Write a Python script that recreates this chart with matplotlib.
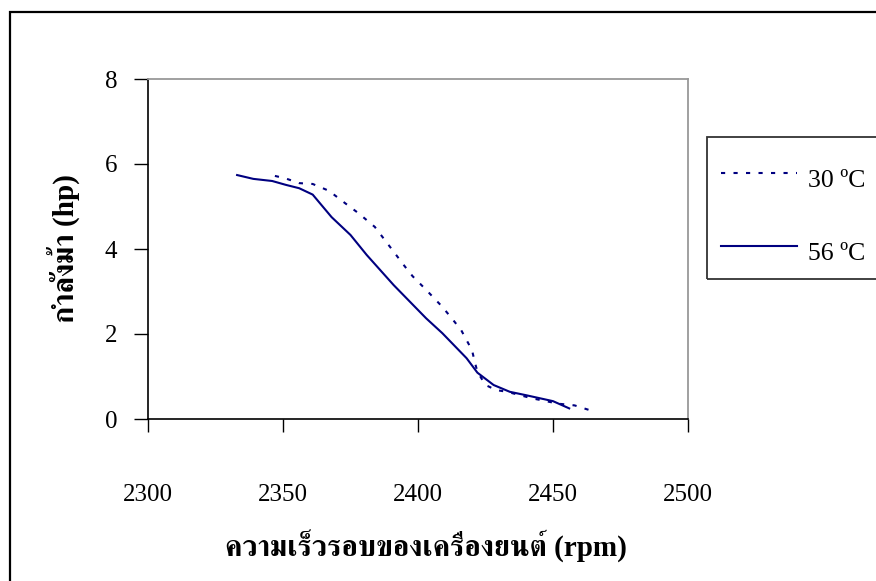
import numpy as np
import matplotlib
matplotlib.use("Agg")
import matplotlib.pyplot as plt
from matplotlib import font_manager
from matplotlib.ft2font import FT2Font
from matplotlib.patches import Rectangle
from matplotlib.lines import Line2D

# ---------------------------------------------------------------------------
# Data
# ---------------------------------------------------------------------------
rpm_30 = [2347, 2351, 2356, 2361, 2367, 2374, 2378, 2384, 2390, 2395, 2398, 2403,
          2406, 2409, 2413, 2416, 2420, 2421, 2422, 2425, 2429, 2433, 2442, 2452,
          2458, 2464]
hp_30 = [5.72, 5.66, 5.55, 5.53, 5.37, 5.03, 4.84, 4.52, 4.02, 3.60, 3.36, 3.04,
         2.84, 2.64, 2.33, 2.09, 1.62, 1.35, 1.11, 0.80, 0.68, 0.64, 0.49, 0.36,
         0.32, 0.20]

rpm_56 = [2333, 2339, 2346, 2351, 2356, 2361, 2368, 2375, 2381, 2391, 2403, 2409,
          2418, 2422, 2428, 2434, 2440, 2450, 2456]
hp_56 = [5.74, 5.65, 5.60, 5.51, 5.43, 5.28, 4.75, 4.33, 3.86, 3.15, 2.37, 2.02,
         1.43, 1.09, 0.80, 0.64, 0.56, 0.42, 0.25]

series_labels = ["30 ºC", "56 ºC"]
x_ticks = [2300, 2350, 2400, 2450, 2500]
y_ticks = [0, 2, 4, 6, 8]
x_title = "ความเร็วรอบของเครื่องยนต์ (rpm)"
y_title = "กำลังม้า (hp)"


def find_thai_families():
    """Return installed families that have Thai glyphs, serif ones first."""
    found = []
    for f in font_manager.fontManager.ttflist:
        try:
            cmap = FT2Font(f.fname).get_charmap()
        except Exception:
            continue
        if 0x0E01 in cmap and f.name not in found:
            found.append(f.name)
    found.sort(key=lambda n: 0 if "Serif" in n else 1)
    return found


thai = find_thai_families()
serif = ["Liberation Serif", "DejaVu Serif"]
title_family = serif[:1] + thai + ["DejaVu Sans"]

plt.rcParams["font.family"] = serif
navy = "#000080"
dotted = (0, (2, 4))

fig = plt.figure(figsize=(8.76, 5.81), dpi=100)
ax = fig.add_axes([148 / 876, 1 - 419 / 581, 540 / 876, 340 / 581])

ax.plot(rpm_30, hp_30, color=navy, linewidth=1.5, linestyle=dotted)
ax.plot(rpm_56, hp_56, color=navy, linewidth=1.5)

ax.set_xlim(2300, 2500)
ax.set_ylim(0, 8)
ax.set_xticks(x_ticks)
ax.set_yticks(y_ticks)
ax.tick_params(axis="x", direction="out", length=9, width=1, pad=38, labelsize=18)
ax.tick_params(axis="y", direction="out", length=10, width=1, pad=12, labelsize=18)

for side in ("top", "right"):
    ax.spines[side].set_color("#999999")
    ax.spines[side].set_linewidth(1.3)
for side in ("left", "bottom"):
    ax.spines[side].set_color("black")
    ax.spines[side].set_linewidth(1.2)

fig.text(426 / 876, 1 - 546 / 581, x_title, ha="center", va="center",
         fontsize=21, fontweight="bold", family=title_family)
fig.text(63 / 876, 1 - 249 / 581, y_title, ha="center", va="center", rotation=90,
         fontsize=21, fontweight="bold", family=title_family)

# outer chart frame (runs off the right and bottom edges)
fig.add_artist(Rectangle((10 / 876, -0.05), 1.2, 1 - 11.5 / 581 + 0.05,
                         transform=fig.transFigure, fill=False,
                         edgecolor="black", linewidth=1.6))

# legend box (also cut off on the right)
fig.add_artist(Rectangle((707 / 876, 1 - 279 / 581), 0.3, 142 / 581,
                         transform=fig.transFigure, fill=False,
                         edgecolor="#333333", linewidth=1.3))
styles = [dotted, "-"]
rows_y = [173, 246]
for lab, ls, yy in zip(series_labels, styles, rows_y):
    yf = 1 - yy / 581
    fig.add_artist(Line2D([721 / 876, 797 / 876], [yf, yf], transform=fig.transFigure,
                          color=navy, linewidth=1.5, linestyle=ls))
    fig.text(808 / 876, yf - 8 / 581, lab, ha="left", va="center", fontsize=18.5)

fig.savefig("out.png", dpi=100)
